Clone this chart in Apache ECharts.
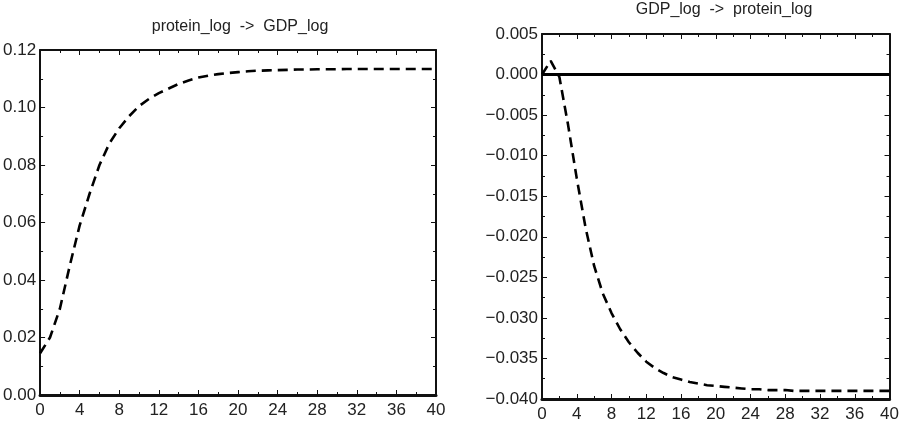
<!DOCTYPE html>
<html>
<head>
<meta charset="utf-8">
<script src="https://cdn.jsdelivr.net/npm/echarts@6/dist/echarts.min.js"></script>
<style>
html, body { margin: 0; padding: 0; background: #fff; }
#chart { width: 902px; height: 434px; }
</style>
</head>
<body>
<div id="chart"></div>
<script>
// impulse responses, periods 0..40
var periods = [];
for (var i = 0; i <= 40; i++) periods.push(i);

var proteinToGdp = [0.0145, 0.020, 0.030, 0.045, 0.059, 0.070, 0.080, 0.0875, 0.0928, 0.097,
  0.1005, 0.103, 0.105, 0.1066, 0.1082, 0.1094, 0.1104, 0.1111, 0.1116, 0.1120,
  0.1123, 0.1126, 0.1128, 0.1129, 0.1130, 0.1131, 0.1132, 0.1132, 0.1133, 0.1133,
  0.1133, 0.1134, 0.1134, 0.1134, 0.1134, 0.1134, 0.1134, 0.1134, 0.1134, 0.1134, 0.1134];

var gdpToProtein = [0.0000, 0.0017, -0.0003, -0.0062, -0.0128, -0.0188, -0.0236, -0.0270, -0.0294, -0.0314,
  -0.0330, -0.0343, -0.0354, -0.0362, -0.0368, -0.0373, -0.0376, -0.0379, -0.0381, -0.0383,
  -0.0384, -0.0385, -0.0386, -0.0387, -0.0388, -0.0388, -0.0389, -0.0389, -0.0389, -0.0390,
  -0.0390, -0.0390, -0.0390, -0.0390, -0.0390, -0.0390, -0.0390, -0.0390, -0.0390, -0.0390, -0.0390];

var titles = ['protein_log  ->  GDP_log', 'GDP_log  ->  protein_log'];

function pairs(ys) {
  return periods.map(function (x, k) { return [x, ys[k]]; });
}

var font = 'Liberation Sans';
var ink = '#111';

function xAxes(gi) {
  var base = {
    gridIndex: gi, type: 'value', min: 0, max: 40, interval: 4,
    axisLine: { show: true, onZero: false, lineStyle: { color: ink, width: 3 } },
    axisTick: { show: true, inside: true, length: 5, lineStyle: { color: ink, width: 1 } },
    minorTick: { show: true, splitNumber: 2, length: 3, lineStyle: { color: ink } },
    splitLine: { show: false },
    axisLabel: { show: true, color: '#222', fontFamily: font, fontSize: 17, margin: 7 }
  };
  var top = JSON.parse(JSON.stringify(base));
  top.position = 'top';
  top.axisLabel = { show: false };
  top.axisLine.lineStyle.width = 2;
  base.position = 'bottom';
  return [base, top];
}

function yAxes(gi, min, max, step, fmt) {
  var left = {
    gridIndex: gi, type: 'value', min: min, max: max, interval: step, position: 'left',
    axisLine: { show: true, onZero: false, lineStyle: { color: ink, width: 2 } },
    axisTick: { show: true, inside: true, length: 5, lineStyle: { color: ink } },
    minorTick: { show: true, splitNumber: 2, length: 3, lineStyle: { color: ink } },
    splitLine: { show: false },
    axisLabel: {
      show: true, color: '#222', fontFamily: font, fontSize: 17, margin: 4,
      formatter: function (v) { return v.toFixed(fmt).replace('-', '\u2212'); }
    }
  };
  var right = JSON.parse(JSON.stringify(left));
  right.position = 'right';
  right.axisLabel = { show: false };
  return [left, right];
}

var chart = echarts.init(document.getElementById('chart'));

var xs = xAxes(0).concat(xAxes(1));
var ys = yAxes(0, 0, 0.12, 0.02, 2).concat(yAxes(1, -0.04, 0.005, 0.005, 3));

var option = {
  animation: false,
  backgroundColor: '#fff',
  title: [
    { text: titles[0], left: 235, top: 14, textAlign: 'center',
      textStyle: { fontFamily: font, fontSize: 16, fontWeight: 'normal', color: '#222' } },
    { text: titles[1], left: 719, top: -3, textAlign: 'center',
      textStyle: { fontFamily: font, fontSize: 16, fontWeight: 'normal', color: '#222' } }
  ],
  grid: [
    { left: 35, top: 50, width: 401, height: 345, containLabel: false },
    { left: 542, top: 34, width: 355, height: 365, containLabel: false }
  ],
  xAxis: xs,
  yAxis: ys,
  series: [
    {
      type: 'line', xAxisIndex: 0, yAxisIndex: 0, data: pairs(proteinToGdp),
      symbol: 'none', smooth: false,
      lineStyle: { color: '#000', width: 2.6, type: [10, 6] }
    },
    {
      type: 'line', xAxisIndex: 2, yAxisIndex: 2, data: pairs(gdpToProtein),
      symbol: 'none', smooth: false,
      lineStyle: { color: '#000', width: 2.6, type: [10, 6] },
      markLine: {
        silent: true, symbol: 'none', label: { show: false },
        lineStyle: { color: '#000', width: 3, type: 'solid' },
        data: [{ yAxis: 0 }]
      }
    }
  ]
};

chart.setOption(option);
</script>
</body>
</html>
